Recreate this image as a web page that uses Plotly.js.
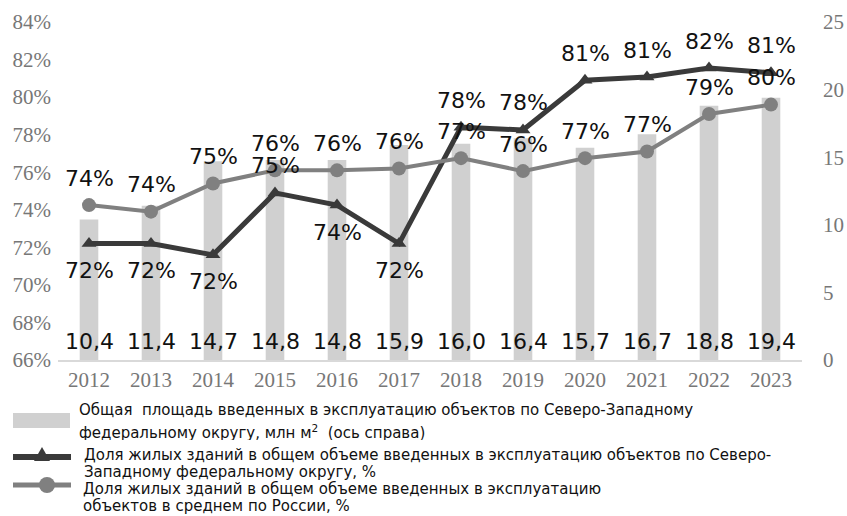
<!DOCTYPE html>
<html>
<head>
<meta charset="utf-8">
<script src="https://cdn.plot.ly/plotly-3.0.1.min.js"></script>
<style>html,body{margin:0;padding:0;background:#fff;}#chart{width:847px;height:516px;}</style>
</head>
<body>
<div id="chart"></div>
<script>
// ---- data ----
const years = ['2012','2013','2014','2015','2016','2017','2018','2019','2020','2021','2022','2023'];
const areaNW = [10.4, 11.4, 14.7, 14.8, 14.8, 15.9, 16.0, 16.4, 15.7, 16.7, 18.8, 19.4];
const shareNW = [72.2, 72.2, 71.6, 74.9, 74.25, 72.2, 78.4, 78.25, 80.9, 81.07, 81.55, 81.3];
const shareRU = [74.25, 73.9, 75.4, 76.1, 76.1, 76.2, 76.75, 76.06, 76.75, 77.1, 79.1, 79.6];
const posNW = ['below','below','below','above','below','below','above','above','above','above','above','above'];
const posRU = ['above','above','above','above','above','above','above','above','above','above','above','above'];
const legendLines = [
  ['Общая  площадь введенных в эксплуатацию объектов по Северо-Западному',
   'федеральному округу, млн м<sup>2</sup>  (ось справа)'],
  ['Доля жилых зданий в общем объеме введенных в эксплуатацию объектов по Северо-',
   'Западному федеральному округу, %'],
  ['Доля жилых зданий в общем объеме введенных в эксплуатацию',
   'объектов в среднем по России, %']
];

const colBar = '#d0d0d0', colNW = '#3a3a3a', colRU = '#808080';
const labelFont = {family: 'DejaVu Sans, sans-serif', size: 22, color: '#111'};
const tickFont = {family: 'Liberation Serif, Times New Roman, serif', size: 21, color: '#777'};
const legFont = {family: 'DejaVu Sans, sans-serif', size: 15, color: '#111'};

// plot-area geometry (for legend placement in paper coordinates)
const W = 847, H = 516, M = {l: 58, r: 45, t: 22, b: 156};
const pw = W - M.l - M.r, ph = H - M.t - M.b;
const px = v => (v - M.l) / pw;
const py = v => (H - M.b - v) / ph;

const traces = [
  {type: 'bar', x: years, y: areaNW, yaxis: 'y', name: 'area',
   marker: {color: colBar}, hoverinfo: 'skip', showlegend: false},
  {type: 'scatter', mode: 'lines+markers', x: years, y: shareNW, yaxis: 'y2', name: 'nw',
   line: {color: colNW, width: 5}, marker: {symbol: 'triangle-up', size: 13, color: colNW}, showlegend: false},
  {type: 'scatter', mode: 'lines+markers', x: years, y: shareRU, yaxis: 'y2', name: 'ru',
   line: {color: colRU, width: 4}, marker: {symbol: 'circle', size: 14, color: colRU}, showlegend: false}
];

const annotations = [];
years.forEach((yr, i) => {
  annotations.push({x: i, y: 0, xref: 'x', yref: 'y', yshift: 19,
    text: areaNW[i].toFixed(1).replace('.', ','), showarrow: false, font: labelFont, yanchor: 'middle'});
  annotations.push({x: i, y: shareNW[i], xref: 'x', yref: 'y2', yshift: posNW[i] === 'above' ? 27 : -27,
    text: Math.round(shareNW[i]) + '%', showarrow: false, font: labelFont, yanchor: 'middle'});
  annotations.push({x: i, y: shareRU[i], xref: 'x', yref: 'y2', yshift: posRU[i] === 'above' ? 27 : -27,
    text: Math.round(shareRU[i]) + '%', showarrow: false, font: labelFont, yanchor: 'middle'});
});

// custom legend (text lines)
const legTextX = [78, 83, 82];
const legTextY = [[410, 432], [455, 472], [489, 506]];
legendLines.forEach((lines, k) => {
  lines.forEach((t, j) => {
    annotations.push({xref: 'paper', yref: 'paper', x: px(legTextX[k]), y: py(legTextY[k][j]),
      xanchor: 'left', yanchor: 'middle', text: t, showarrow: false, font: legFont,
      height: 16, borderpad: 0, valign: 'middle'});
  });
});

// custom legend (symbols)
const shapes = [
  {type: 'rect', xref: 'paper', yref: 'paper', x0: px(13), x1: px(70), y0: py(413), y1: py(428),
   fillcolor: colBar, line: {width: 0}},
  {type: 'line', xref: 'paper', yref: 'paper', x0: px(13), x1: px(71), y0: py(457), y1: py(457),
   line: {color: colNW, width: 6}},
  {type: 'path', xref: 'paper', yref: 'paper', xsizemode: 'pixel', ysizemode: 'pixel',
   xanchor: px(42), yanchor: py(455), path: 'M -8 -6 L 8 -6 L 0 8 Z', fillcolor: colNW, line: {width: 0}},
  {type: 'line', xref: 'paper', yref: 'paper', x0: px(13), x1: px(71), y0: py(485), y1: py(485),
   line: {color: colRU, width: 5}},
  {type: 'circle', xref: 'paper', yref: 'paper', xsizemode: 'pixel', ysizemode: 'pixel',
   xanchor: px(47), yanchor: py(485), x0: -8, x1: 8, y0: -8, y1: 8, fillcolor: colRU, line: {width: 0}}
];

const layout = {
  width: W, height: H,
  margin: {l: M.l, r: M.r, t: M.t, b: M.b, autoexpand: false},
  paper_bgcolor: '#fff', plot_bgcolor: '#fff',
  showlegend: false,
  bargap: 0.7,
  xaxis: {type: 'category', range: [-0.5, 11.5], showline: true, linecolor: '#d9d9d9', linewidth: 2,
    showgrid: false, zeroline: false, ticks: '', tickfont: tickFont},
  yaxis: {side: 'right', range: [0, 25], dtick: 5, showgrid: false, zeroline: false, showline: false,
    ticks: '', tickfont: tickFont, ticklabelstandoff: 20},
  yaxis2: {side: 'left', overlaying: 'y', range: [66, 84], dtick: 2, ticksuffix: '%', showgrid: false,
    zeroline: false, showline: false, ticks: '', tickfont: tickFont, ticklabelstandoff: 6},
  annotations: annotations,
  shapes: shapes
};

Plotly.newPlot('chart', traces, layout, {displayModeBar: false, staticPlot: true});
</script>
</body>
</html>
